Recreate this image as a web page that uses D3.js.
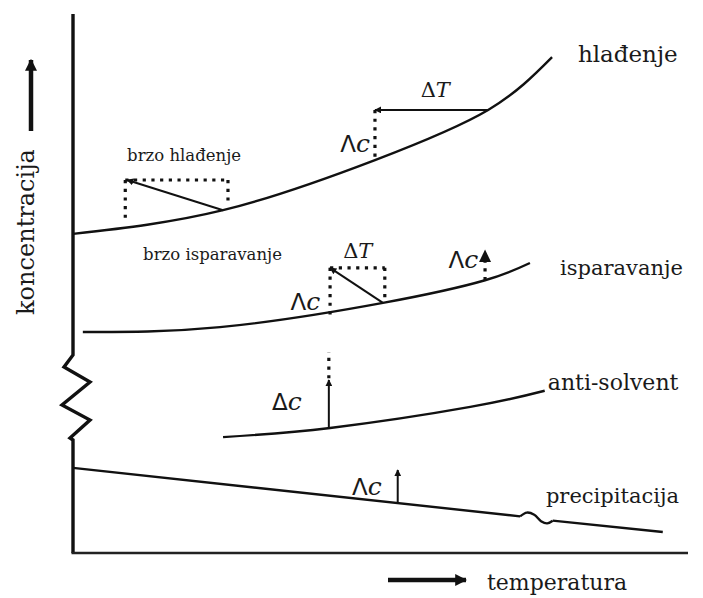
<!DOCTYPE html>
<html><head><meta charset="utf-8">
<script src="https://cdn.jsdelivr.net/npm/d3@7"></script>
<style>
html,body{margin:0;padding:0;background:#fff;}
svg{display:block;}
</style></head>
<body><svg id="c" width="703" height="598"></svg>
<script>
// ---- data (abstract units: temperatura 0-100, koncentracija 0-100) ----
const hladjenje = [[0,59.2],[24.4,63.6],[49.1,72.9],[67.5,82.2],[77.9,92.0]];
const isparavanje = [[1.6,41.0],[23.9,41.9],[50.4,46.4],[67.0,50.6],[74.3,53.8]];
const antiSolvent = [[24.4,21.5],[41.8,23.2],[64.6,27.1],[76.7,30.1]];
const precipA = [[0,15.8],[72.7,6.8]];
const precipKink = [[72.7,6.8],[73.8,7.5],[75.0,7.1],[76.1,5.9],[77.1,5.5],[78.0,6.0]];
const precipB = [[78.0,6.0],[95.9,3.9]];

// arrows: [x1,y1,x2,y2]
const arrows = [
  [67.5,82.2,49.1,82.2],   // hlađenje ΔT
  [24.4,63.6,8.8,69.2],    // brzo hlađenje
  [50.4,46.4,41.8,52.9],   // brzo isparavanje
  [41.6,23.2,41.6,32.1],   // anti-solvent Δc
  [52.8,9.3,52.8,15.4]     // precipitacija Δc
];
// dotted segments: [x1,y1,x2,y2]
const dotted = [
  [49.1,82.2,49.1,72.9],
  [8.5,69.2,8.5,62.2],[8.5,69.2,25.2,69.2],[25.2,69.2,25.2,64.6],
  [41.8,52.9,41.8,43.6],[41.8,52.9,50.7,52.9],[50.7,52.9,50.7,46.4],
  [67.0,50.6,67.0,54.3],
  [41.6,32.4,41.6,37.3]
];
// filled triangle arrowhead on isparavanje Δc
const triHead = [67.0,54.0,56.3];

const curveLabels = [
  {t:"hlađenje",x:82.1,y:91.1,s:23},
  {t:"isparavanje",x:79.2,y:51.6,s:21},
  {t:"anti-solvent",x:77.2,y:30.2,s:22},
  {t:"precipitacija",x:76.9,y:9.3,s:21}
];
const smallLabels = [
  {t:"brzo hlađenje",x:8.8,y:72.7},
  {t:"brzo isparavanje",x:11.4,y:54.4}
];
const deltaC = [
  {t:"Λc",x:48.3,y:74.4},
  {t:"Λc",x:40.2,y:45.1},
  {t:"Λc",x:65.9,y:52.9},
  {t:"Δc",x:37.2,y:26.5},
  {t:"Λc",x:50.2,y:10.8}
];
const deltaT = [
  {x:58.9,y:84.6},
  {x:46.3,y:54.7}
];

// ---- drawing ----
const FONT = "'DejaVu Serif','Liberation Serif',serif";
const svg = d3.select("#c");
const x = d3.scaleLinear().domain([0,100]).range([73,688]);
const y = d3.scaleLinear().domain([0,100]).range([553,14]);

const defs = svg.append("defs");
defs.append("marker").attr("id","ah").attr("viewBox","0 0 10 10").attr("refX",9).attr("refY",5)
  .attr("markerWidth",7).attr("markerHeight",7).attr("markerUnits","userSpaceOnUse")
  .attr("orient","auto").append("path").attr("d","M0,0L10,5L0,10Z").attr("fill","#111");
defs.append("marker").attr("id","ahBig").attr("viewBox","0 0 10 10").attr("refX",9).attr("refY",5)
  .attr("markerWidth",12).attr("markerHeight",12).attr("markerUnits","userSpaceOnUse")
  .attr("orient","auto").append("path").attr("d","M0,0L10,5L0,10Z").attr("fill","#111");

const line = d3.line().x(d=>x(d[0])).y(d=>y(d[1])).curve(d3.curveNatural);
const lineKink = d3.line().x(d=>x(d[0])).y(d=>y(d[1])).curve(d3.curveCatmullRom);
const lineStraight = d3.line().x(d=>x(d[0])).y(d=>y(d[1]));

// axes
const xAxisY = y(0), yAxisX = x(0);
const zz = [[0,0],[-9,12],[17,27],[-11,50],[17,65],[-3,83]];
const zzTop = 355;
const ypath = d3.path();
ypath.moveTo(yAxisX, y(100));
ypath.lineTo(yAxisX, zzTop);
zz.forEach(p=>ypath.lineTo(yAxisX+p[0], zzTop+p[1]));
ypath.lineTo(yAxisX, zzTop+85);
ypath.lineTo(yAxisX, xAxisY);
svg.append("path").attr("d",ypath.toString()).attr("fill","none").attr("stroke","#111")
  .attr("stroke-width",3.4).attr("stroke-linejoin","miter");
svg.append("line").attr("x1",yAxisX-1.5).attr("x2",x(100)).attr("y1",xAxisY).attr("y2",xAxisY)
  .attr("stroke","#222").attr("stroke-width",2.5);

// curves
[hladjenje,isparavanje,antiSolvent].forEach(c=>{
  svg.append("path").attr("d",line(c)).attr("fill","none").attr("stroke","#111").attr("stroke-width",2.4);
});
svg.append("path").attr("d",lineStraight(precipA)).attr("fill","none").attr("stroke","#111").attr("stroke-width",2.4);
svg.append("path").attr("d",lineKink(precipKink)).attr("fill","none").attr("stroke","#111").attr("stroke-width",2.4);
svg.append("path").attr("d",lineStraight(precipB)).attr("fill","none").attr("stroke","#111").attr("stroke-width",2.4);

// dotted
dotted.forEach(d=>{
  svg.append("line").attr("x1",x(d[0])).attr("y1",y(d[1])).attr("x2",x(d[2])).attr("y2",y(d[3]))
    .attr("stroke","#111").attr("stroke-width",3.2).attr("stroke-dasharray","3.2,5.5");
});

// arrows
arrows.forEach(a=>{
  svg.append("line").attr("x1",x(a[0])).attr("y1",y(a[1])).attr("x2",x(a[2])).attr("y2",y(a[3]))
    .attr("stroke","#111").attr("stroke-width",2).attr("marker-end","url(#ah)");
});
// filled triangle head
{
  const cx = x(triHead[0]), yb = y(triHead[1]), yt = y(triHead[2]);
  svg.append("path").attr("d",`M${cx-6},${yb}L${cx+6},${yb}L${cx},${yt}Z`).attr("fill","#111");
}

// labels
curveLabels.forEach(l=>{
  svg.append("text").attr("x",x(l.x)).attr("y",y(l.y)).attr("font-family",FONT).attr("fill","#1a1a1a")
    .attr("font-size",l.s).text(l.t);
});
smallLabels.forEach(l=>{
  svg.append("text").attr("x",x(l.x)).attr("y",y(l.y)).attr("font-family",FONT).attr("fill","#1a1a1a")
    .attr("font-size",16.5).text(l.t);
});
deltaC.forEach(l=>{
  const t = svg.append("text").attr("x",x(l.x)).attr("y",y(l.y)).attr("text-anchor","end")
    .attr("font-family",FONT).attr("fill","#1a1a1a").attr("font-size",25);
  t.append("tspan").attr("font-family","'DejaVu Sans',sans-serif").attr("font-size",23).text(l.t[0]);
  t.append("tspan").attr("font-style","italic").text(l.t.slice(1));
});
deltaT.forEach(l=>{
  const t = svg.append("text").attr("x",x(l.x)).attr("y",y(l.y)).attr("text-anchor","middle")
    .attr("font-family",FONT).attr("fill","#1a1a1a").attr("font-size",21);
  t.append("tspan").text("Δ");
  t.append("tspan").attr("font-style","italic").text("T");
});

// axis titles with arrows
svg.append("text").attr("transform","translate(34,232) rotate(-90)").attr("text-anchor","middle")
  .attr("font-family",FONT).attr("fill","#1a1a1a").attr("font-size",24).text("koncentracija");
svg.append("line").attr("x1",31).attr("x2",31).attr("y1",131).attr("y2",60)
  .attr("stroke","#111").attr("stroke-width",4.5).attr("marker-end","url(#ahBig)");
svg.append("line").attr("x1",388).attr("x2",466).attr("y1",580).attr("y2",580)
  .attr("stroke","#111").attr("stroke-width",4.5).attr("marker-end","url(#ahBig)");
svg.append("text").attr("x",487).attr("y",590).attr("font-family",FONT).attr("fill","#1a1a1a")
  .attr("font-size",22).text("temperatura");
</script></body></html>
